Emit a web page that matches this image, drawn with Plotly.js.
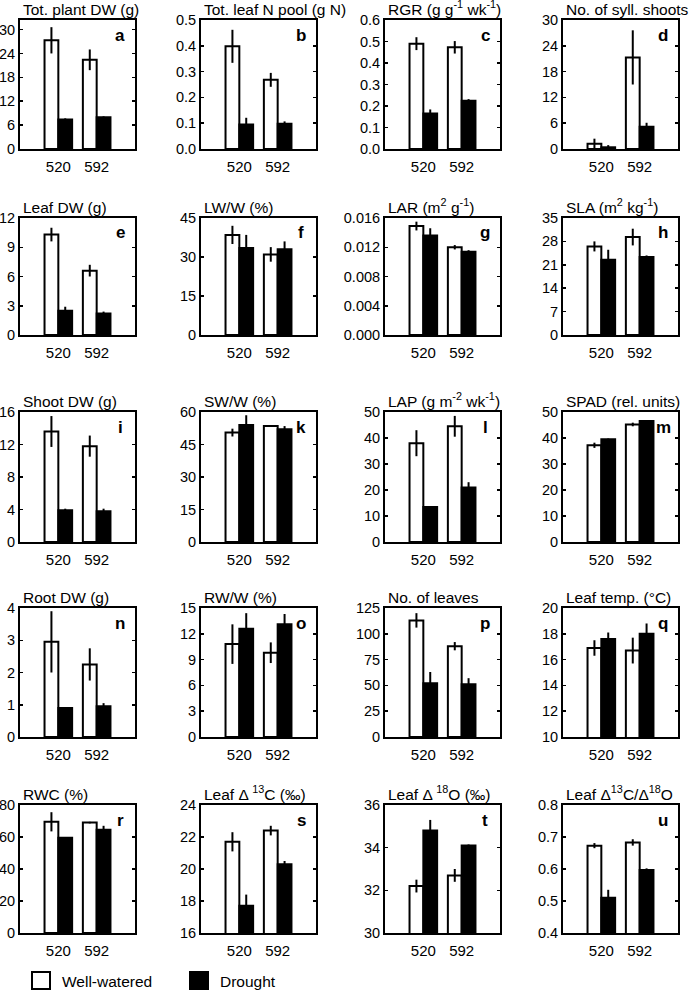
<!DOCTYPE html>
<html>
<head>
<meta charset="utf-8">
<script src="https://cdn.plot.ly/plotly-3.0.1.min.js"></script>
<style>
html,body{margin:0;padding:0;background:#fff;}
#chart{width:691px;height:991px;}
</style>
</head>
<body>
<div id="chart"></div>
<script>
// ---------- data ----------
const categories = ['520', '592'];
const seriesNames = ['Well-watered', 'Drought'];

const panelLetters = ['a','b','c','d','e','f','g','h','i','k','l','m','n','o','p','q','r','s','t','u'];
const panelTitles = [
  'Tot. plant DW (g)', 'Tot. leaf N pool (g N)', 'RGR (g g<sup>-1</sup> wk<sup>-1</sup>)', 'No. of syll. shoots',
  'Leaf DW (g)', 'LW/W (%)', 'LAR (m<sup>2</sup> g<sup>-1</sup>)', 'SLA (m<sup>2</sup> kg<sup>-1</sup>)',
  'Shoot DW (g)', 'SW/W (%)', 'LAP (g m<sup>-2</sup> wk<sup>-1</sup>)', 'SPAD (rel. units)',
  'Root DW (g)', 'RW/W (%)', 'No. of leaves', 'Leaf temp. (°C)',
  'RWC (%)', 'Leaf Δ <sup>13</sup>C (‰)', 'Leaf Δ <sup>18</sup>O (‰)', 'Leaf Δ<sup>13</sup>C/Δ<sup>18</sup>O'
];

// well-watered means / errors, drought means / errors (520, 592)
const a_ww = [27.3, 22.4],   a_wwErr = [3.3, 2.6],    a_dr = [7.4, 8.0],    a_drErr = [0.3, 0.2];
const b_ww = [0.398, 0.268], b_wwErr = [0.064, 0.027], b_dr = [0.095, 0.098], b_drErr = [0.026, 0.009];
const c_ww = [0.490, 0.473], c_wwErr = [0.030, 0.029], c_dr = [0.165, 0.224], c_drErr = [0.019, 0.008];
const d_ww = [1.2, 21.3],    d_wwErr = [1.2, 6.3],    d_dr = [0.4, 5.2],    d_drErr = [0.5, 0.9];

const e_ww = [10.3, 6.6],    e_wwErr = [0.7, 0.6],    e_dr = [2.5, 2.2],    e_drErr = [0.4, 0.2];
const f_ww = [38.5, 31.0],   f_wwErr = [3.5, 2.8],    f_dr = [33.5, 33.0],  f_drErr = [5.0, 3.0];
const g_ww = [0.0149, 0.0120], g_wwErr = [0.0006, 0.0003], g_dr = [0.0136, 0.0114], g_drErr = [0.0010, 0.0002];
const h_ww = [26.5, 29.3],   h_wwErr = [1.5, 2.5],    h_dr = [22.5, 23.3],  h_drErr = [3.0, 0.5];

const i_ww = [13.6, 11.8],   i_wwErr = [1.9, 1.3],    i_dr = [3.9, 3.8],    i_drErr = [0.2, 0.3];
const k_ww = [50.5, 53.5],   k_wwErr = [1.8, 0.3],    k_dr = [54.0, 52.0],  k_drErr = [4.5, 1.5];
const l_ww = [38.0, 44.5],   l_wwErr = [5.0, 4.0],    l_dr = [13.5, 21.0],  l_drErr = [0.3, 2.0];
const m_ww = [37.2, 45.2],   m_wwErr = [1.0, 0.7],    m_dr = [39.5, 46.5],  m_drErr = [0.3, 0.3];

const n_ww = [2.95, 2.25],   n_wwErr = [0.95, 0.5],   n_dr = [0.90, 0.95],  n_drErr = [0.02, 0.1];
const o_ww = [10.8, 9.8],    o_wwErr = [2.3, 1.2],    o_dr = [12.6, 13.1],  o_drErr = [1.8, 1.2];
const p_ww = [113, 88],      p_wwErr = [7, 4],        p_dr = [52, 51],      p_drErr = [11, 6];
const q_ww = [16.9, 16.7],   q_wwErr = [0.6, 1.0],    q_dr = [17.6, 18.0],  q_drErr = [0.5, 0.8];

const r_ww = [69.5, 69.0],   r_wwErr = [6.0, 0.5],    r_dr = [59.5, 64.5],  r_drErr = [0.5, 2.5];
const s_ww = [21.7, 22.4],   s_wwErr = [0.6, 0.3],    s_dr = [17.7, 20.3],  s_drErr = [0.7, 0.2];
const t_ww = [32.2, 32.7],   t_wwErr = [0.3, 0.3],    t_dr = [34.8, 34.1],  t_drErr = [0.5, 0.05];
const u_ww = [0.673, 0.683], u_wwErr = [0.008, 0.010], u_dr = [0.510, 0.597], u_drErr = [0.025, 0.005];

// y-axis ranges and tick values
const yRanges = [
  [0, 32.4], [0, 0.5], [0, 0.6], [0, 30],
  [0, 12], [0, 45], [0, 0.016], [0, 35],
  [0, 16], [0, 60], [0, 50], [0, 50],
  [0, 4], [0, 15], [0, 125], [10, 20],
  [0, 80], [16, 24], [30, 36], [0.4, 0.8]
];
const yTicks = [
  [0, 6, 12, 18, 24, 30], [0, 0.1, 0.2, 0.3, 0.4, 0.5], [0, 0.1, 0.2, 0.3, 0.4, 0.5, 0.6], [0, 6, 12, 18, 24, 30],
  [0, 3, 6, 9, 12], [0, 15, 30, 45], [0, 0.004, 0.008, 0.012, 0.016], [0, 7, 14, 21, 28, 35],
  [0, 4, 8, 12, 16], [0, 15, 30, 45, 60], [0, 10, 20, 30, 40, 50], [0, 10, 20, 30, 40, 50],
  [0, 1, 2, 3, 4], [0, 3, 6, 9, 12, 15], [0, 25, 50, 75, 100, 125], [10, 12, 14, 16, 18, 20],
  [0, 20, 40, 60, 80], [16, 18, 20, 22, 24], [30, 32, 34, 36], [0.4, 0.5, 0.6, 0.7, 0.8]
];
const yTickFormats = [
  '', '.1f', '.1f', '',
  '', '', '.3f', '',
  '', '', '', '',
  '', '', '', '',
  '', '', '', '.1f'
];

const wwData = [a_ww,b_ww,c_ww,d_ww,e_ww,f_ww,g_ww,h_ww,i_ww,k_ww,l_ww,m_ww,n_ww,o_ww,p_ww,q_ww,r_ww,s_ww,t_ww,u_ww];
const wwErrData = [a_wwErr,b_wwErr,c_wwErr,d_wwErr,e_wwErr,f_wwErr,g_wwErr,h_wwErr,i_wwErr,k_wwErr,l_wwErr,m_wwErr,n_wwErr,o_wwErr,p_wwErr,q_wwErr,r_wwErr,s_wwErr,t_wwErr,u_wwErr];
const drData = [a_dr,b_dr,c_dr,d_dr,e_dr,f_dr,g_dr,h_dr,i_dr,k_dr,l_dr,m_dr,n_dr,o_dr,p_dr,q_dr,r_dr,s_dr,t_dr,u_dr];
const drErrData = [a_drErr,b_drErr,c_drErr,d_drErr,e_drErr,f_drErr,g_drErr,h_drErr,i_drErr,k_drErr,l_drErr,m_drErr,n_drErr,o_drErr,p_drErr,q_drErr,r_drErr,s_drErr,t_drErr,u_drErr];

// ---------- layout geometry (pixels) ----------
const W = 691, H = 991;
const colLeft = [20, 201, 385, 563];
const colWidth = 115;
const rowTop = [20, 218, 412, 608, 805];
const rowBottom = [149, 335, 542, 737, 933];
const FONT = 'Liberation Sans, Arial, Helvetica, sans-serif';
const tickSize = 14.5;
const titleSize = 15.5;

const traces = [];
const layout = {
  width: W, height: H,
  margin: {l: 0, r: 0, t: 0, b: 0},
  paper_bgcolor: '#fff', plot_bgcolor: '#fff',
  showlegend: false,
  barmode: 'group', bargap: 0.28, bargroupgap: 0,
  font: {family: FONT, size: tickSize, color: '#000'},
  annotations: [], shapes: []
};

const xVals = [1, 2];

for (let p = 0; p < 20; p++) {
  const row = Math.floor(p / 4), col = p % 4;
  const n = p + 1;
  const xa = n === 1 ? 'x' : 'x' + n;
  const ya = n === 1 ? 'y' : 'y' + n;
  const xKey = n === 1 ? 'xaxis' : 'xaxis' + n;
  const yKey = n === 1 ? 'yaxis' : 'yaxis' + n;

  layout[xKey] = {
    domain: [colLeft[col] / W, (colLeft[col] + colWidth) / W],
    anchor: ya, range: [0, 3],
    tickvals: xVals, ticktext: categories, ticks: '',
    ticklabelstandoff: 3,
    showline: true, linewidth: 2, linecolor: '#000', mirror: true,
    showgrid: false, zeroline: false, fixedrange: true,
    tickfont: {family: FONT, size: tickSize + 0.5, color: '#000'}
  };
  layout[yKey] = {
    domain: [1 - rowBottom[row] / H, 1 - rowTop[row] / H],
    anchor: xa, range: yRanges[p],
    tickvals: yTicks[p], tickformat: yTickFormats[p],
    ticks: 'inside', ticklen: 3, tickwidth: 1.5, tickcolor: '#000',
    showline: true, linewidth: 2, linecolor: '#000', mirror: 'ticks',
    showgrid: false, zeroline: false, fixedrange: true,
    tickfont: {family: FONT, size: tickSize, color: '#000'}
  };

  traces.push({
    type: 'bar', x: xVals, y: wwData[p], xaxis: xa, yaxis: ya, name: seriesNames[0],
    marker: {color: '#fff', line: {color: '#000', width: 2}},
    error_y: {type: 'data', array: wwErrData[p], visible: true, color: '#000', thickness: 2, width: 0},
    hoverinfo: 'skip'
  });
  traces.push({
    type: 'bar', x: xVals, y: drData[p], xaxis: xa, yaxis: ya, name: seriesNames[1],
    marker: {color: '#000', line: {color: '#000', width: 2}},
    error_y: {type: 'data', array: drErrData[p], visible: true, color: '#000', thickness: 2, width: 0},
    hoverinfo: 'skip'
  });

  // panel title (paper coordinates, left aligned at frame)
  layout.annotations.push({
    xref: 'paper', yref: 'paper',
    x: (colLeft[col] + 1) / W, y: 1 - rowTop[row] / H,
    xanchor: 'left', yanchor: 'bottom', yshift: 0,
    text: panelTitles[p], showarrow: false,
    font: {family: FONT, size: titleSize, color: '#000'}
  });
  // panel letter
  layout.annotations.push({
    xref: 'paper', yref: 'paper',
    x: (colLeft[col] + 0.87 * colWidth) / W, y: 1 - (rowTop[row] + 15) / H,
    xanchor: 'center', yanchor: 'middle',
    text: '<b>' + panelLetters[p] + '</b>', showarrow: false,
    font: {family: FONT, size: 17, color: '#000'}
  });
}

// legend (bottom)
const legendItems = [
  {x0: 32, label: seriesNames[0], fill: '#fff'},
  {x0: 190, label: seriesNames[1], fill: '#000'}
];
legendItems.forEach(it => {
  layout.shapes.push({
    type: 'rect', xref: 'paper', yref: 'paper',
    x0: it.x0 / W, x1: (it.x0 + 18) / W, y0: 1 - 989 / H, y1: 1 - 972 / H,
    fillcolor: it.fill, line: {color: '#000', width: 2}
  });
  layout.annotations.push({
    xref: 'paper', yref: 'paper', x: (it.x0 + 28) / W, y: 1 - 981 / H,
    xanchor: 'left', yanchor: 'middle', text: it.label, showarrow: false,
    font: {family: FONT, size: titleSize, color: '#000'}
  });
});

Plotly.newPlot('chart', traces, layout, {staticPlot: true, displayModeBar: false});
</script>
</body>
</html>
